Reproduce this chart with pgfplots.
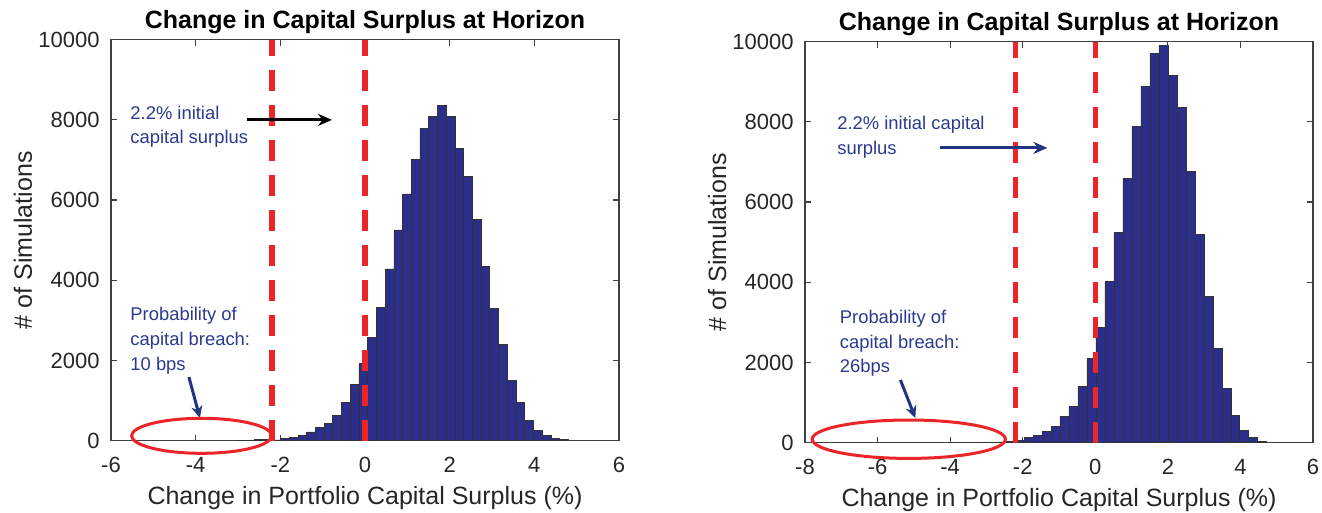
\documentclass[border=0pt]{standalone}
\usepackage{pgfplots}
\pgfplotsset{compat=1.18}
\usepackage{fontspec}
\setmainfont{Liberation Sans}
\usetikzlibrary{arrows.meta}
\definecolor{barblue}{RGB}{44,46,140}
\definecolor{dred}{RGB}{237,36,40}
\definecolor{annot}{RGB}{43,57,144}
\definecolor{arrblue}{RGB}{32,52,130}
\definecolor{axgray}{RGB}{64,64,64}
\definecolor{lblgray}{RGB}{38,38,38}
\tikzset{ann/.style={anchor=base west, inner sep=0pt, text=annot, font=\fontsize{9.2bp}{11bp}\selectfont}}
\pgfplotsset{
  mystyle/.style={
    scale only axis, width=254bp, height=200.5bp,
    ymin=0, ymax=10000,
    scaled y ticks=false, scaled x ticks=false,
    ytick={0,2000,4000,6000,8000,10000},
    yticklabels={0,2000,4000,6000,8000,10000},
    axis line style={axgray, line width=0.6bp},
    tick style={axgray, line width=0.6bp},
    major tick length=3bp,
    tick align=inside, tick pos=both,
    clip=false,
    xticklabel style={font=\fontsize{11bp}{13bp}\selectfont, text=lblgray, anchor=base, inner sep=0pt, yshift=-16bp},
    yticklabel style={font=\fontsize{11bp}{13bp}\selectfont, text=lblgray, anchor=east, inner sep=0pt, xshift=-5.5bp},
    every axis title shift=0pt,
    title style={font=\bfseries\fontsize{12.5bp}{14bp}\selectfont, at={(axis description cs:0.5,1)}, anchor=base, yshift=5.5bp, inner sep=0pt},
    every axis x label/.style={at={([yshift=-32bp]axis description cs:0.5,0)}, anchor=base, inner sep=0pt, font=\fontsize{12.5bp}{14bp}\selectfont, text=lblgray},
    every axis y label/.style={at={([xshift=-39.5bp]axis description cs:0,0.5)}, rotate=90, anchor=base, inner sep=0pt, font=\fontsize{12.5bp}{14bp}\selectfont, text=lblgray},
    title={Change in Capital Surplus at Horizon},
    xlabel={Change in Portfolio Capital Surplus (\%)},
    ylabel={\# of Simulations},
  },
  histo/.style={ybar interval, fill=barblue, draw=black!80, line width=0.3bp},
  redline/.style={dred, line width=2.7bp, dash pattern=on 10.5bp off 7bp},
}
\begin{document}
\begin{tikzpicture}
\useasboundingbox (0,0) rectangle (661bp,256.5bp);
% ---------- left ----------
\begin{axis}[mystyle, at={(55.5bp,36.15bp)}, anchor=south west,
  xmin=-6, xmax=6, xtick={-6,-4,-2,0,2,4,6}, xticklabels={-6,-4,-2,0,2,4,6}]
\addplot[histo] coordinates {
(-3.027,8) (-2.821,15) (-2.615,25) (-2.409,35) (-2.203,20) (-1.997,67) (-1.791,92)
(-1.585,134) (-1.379,217) (-1.173,334) (-0.967,426) (-0.761,627) (-0.555,961)
(-0.349,1395) (-0.143,1921) (0.063,2573) (0.269,3325) (0.475,4286) (0.681,5255)
(0.887,6157) (1.093,7017) (1.299,7786) (1.505,8095) (1.711,8362) (1.917,8095)
(2.123,7285) (2.329,6583) (2.535,5514) (2.741,4344) (2.947,3308) (3.153,2398)
(3.359,1504) (3.565,961) (3.771,510) (3.977,259) (4.183,134) (4.389,50) (4.595,25) (4.801,25)};
\addplot[redline] coordinates {(-2.2,0) (-2.2,10000)};
\addplot[redline] coordinates {(0,0) (0,10000)};
\draw[black, line width=1.5bp, -{Stealth[length=7bp,width=6bp]}] (axis cs:-2.79,8000) -- (axis cs:-0.78,8000);
\node[ann] at (axis cs:-5.55,8015) {2.2\% initial};
\node[ann] at (axis cs:-5.55,7416) {capital surplus};
\node[ann] at (axis cs:-5.55,2993) {Probability of};
\node[ann] at (axis cs:-5.55,2369) {capital breach:};
\node[ann] at (axis cs:-5.55,1763) {10 bps};
\draw[arrblue, line width=1.5bp, -{Stealth[length=6bp,width=5.5bp]}] (axis cs:-4.16,1589) -- (axis cs:-3.90,566);
\draw[dred, line width=1.5bp] (axis cs:-3.86,122) ellipse [x radius=35bp, y radius=8.75bp];
\end{axis}
% ---------- right ----------
\begin{axis}[mystyle, at={(402.5bp,35.15bp)}, anchor=south west,
  xmin=-8, xmax=6, xtick={-8,-6,-4,-2,0,2,4,6}, xticklabels={-8,-6,-4,-2,0,2,4,6}]
\addplot[histo] coordinates {
(-3.202,5) (-2.954,10) (-2.707,18) (-2.459,30) (-2.211,66) (-1.964,133) (-1.716,191)
(-1.468,291) (-1.221,416) (-0.973,648) (-0.725,898) (-0.477,1397) (-0.230,2103)
(0.018,2868) (0.266,4015) (0.513,5245) (0.761,6592) (1.009,7897) (1.257,8895)
(1.504,9710) (1.752,9917) (2.000,9153) (2.247,8363) (2.495,6775) (2.743,5204)
(2.990,3641) (3.238,2344) (3.486,1355) (3.734,673) (3.981,316) (4.229,133) (4.477,25) (4.724,25)};
\addplot[redline] coordinates {(-2.2,0) (-2.2,10000)};
\addplot[redline] coordinates {(0,0) (0,10000)};
\draw[arrblue, line width=1.5bp, -{Stealth[length=7bp,width=6bp]}] (axis cs:-4.27,7351) -- (axis cs:-1.32,7351);
\node[ann] at (axis cs:-7.12,7817) {2.2\% initial capital};
\node[ann] at (axis cs:-7.12,7193) {surplus};
\node[ann] at (axis cs:-7.05,2961) {Probability of};
\node[ann] at (axis cs:-7.05,2355) {capital breach:};
\node[ann] at (axis cs:-7.05,1746) {26bps};
\draw[arrblue, line width=1.5bp, -{Stealth[length=6bp,width=5.5bp]}] (axis cs:-5.37,1564) -- (axis cs:-4.96,616);
\draw[dred, line width=1.5bp] (axis cs:-5.14,87) ellipse [x radius=48.3bp, y radius=9.6bp];
\end{axis}
\end{tikzpicture}
\end{document}
